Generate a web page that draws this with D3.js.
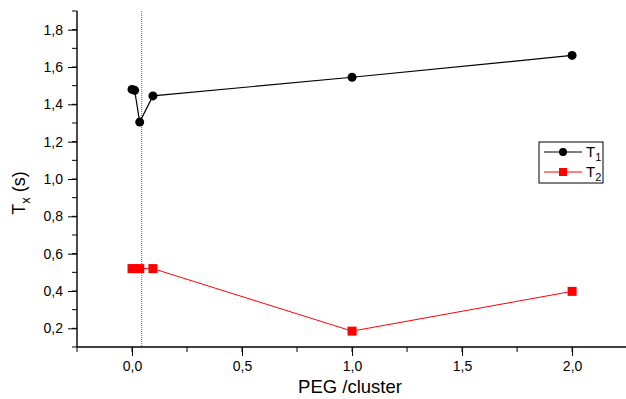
<!DOCTYPE html>
<html>
<head>
<meta charset="utf-8">
<script src="https://d3js.org/d3.v7.min.js"></script>
<style>
  body { margin: 0; background: #fff; }
  text { font-family: "Liberation Sans", Arial, sans-serif; fill: #000; }
</style>
</head>
<body>
<svg width="626" height="399"></svg>
<script>
// data
var pegX = [0, 0.012, 0.035, 0.095, 1.0, 2.0];
var t1 = [1.48, 1.475, 1.305, 1.445, 1.545, 1.662];
var t2 = [0.52, 0.52, 0.52, 0.52, 0.185, 0.398];
var xTicks = [0, 0.5, 1.0, 1.5, 2.0];
var yTicks = [0.2, 0.4, 0.6, 0.8, 1.0, 1.2, 1.4, 1.6, 1.8];
var markerLine = 0.044;

var svg = d3.select("svg");
var padL = 77, padR = 626, padT = 11, padB = 347;

var x = d3.scaleLinear().domain([-0.25, 2.245]).range([padL, padR]);
var y = d3.scaleLinear().domain([0.1, 1.9]).range([padB, padT]);

var fmt = function(d) { return d3.format(".1f")(d).replace(".", ","); };

// minor ticks
var xMinor = d3.range(-0.25, 2.25, 0.25);
var yMinor = d3.range(0.1, 1.91, 0.1);

svg.append("g").selectAll("line").data(xMinor).enter().append("line")
  .attr("x1", function(d) { return x(d); }).attr("x2", function(d) { return x(d); })
  .attr("y1", padB).attr("y2", padB + 5)
  .attr("stroke", "#000").attr("stroke-width", 1);

svg.append("g").selectAll("line").data(yMinor).enter().append("line")
  .attr("y1", function(d) { return y(d); }).attr("y2", function(d) { return y(d); })
  .attr("x1", padL).attr("x2", padL - 5)
  .attr("stroke", "#000").attr("stroke-width", 1);

var xAxis = svg.append("g").attr("transform", "translate(0," + padB + ")")
  .call(d3.axisBottom(x).tickValues(xTicks).tickFormat(fmt).tickSize(9).tickPadding(5));
var yAxis = svg.append("g").attr("transform", "translate(" + padL + ",0)")
  .call(d3.axisLeft(y).tickValues(yTicks).tickFormat(fmt).tickSize(9).tickPadding(5));

xAxis.select(".domain").attr("stroke-width", 1.4).attr("d", "M" + padL + ",0H" + padR);
yAxis.select(".domain").attr("stroke-width", 1.4).attr("d", "M0," + padB + "V" + padT);
[xAxis, yAxis].forEach(function(a) {
  a.selectAll("text").style("font-size", "14px").style("font-family", "'Liberation Sans', Arial, sans-serif");
});

// dotted marker line
svg.append("line")
  .attr("x1", x(markerLine)).attr("x2", x(markerLine))
  .attr("y1", padT).attr("y2", padB)
  .attr("stroke", "#666").attr("stroke-width", 1).attr("stroke-dasharray", "1,1");

var line1 = d3.line().x(function(d, i) { return x(pegX[i]); }).y(function(d) { return y(d); });

svg.append("path").datum(t1).attr("d", line1)
  .attr("fill", "none").attr("stroke", "#000").attr("stroke-width", 1.2);
svg.append("path").datum(t2).attr("d", line1)
  .attr("fill", "none").attr("stroke", "#f00").attr("stroke-width", 1);

svg.append("g").selectAll("circle").data(t1).enter().append("circle")
  .attr("cx", function(d, i) { return x(pegX[i]); })
  .attr("cy", function(d) { return y(d); })
  .attr("r", 4.5).attr("fill", "#000");

svg.append("g").selectAll("rect").data(t2).enter().append("rect")
  .attr("x", function(d, i) { return x(pegX[i]) - 4.5; })
  .attr("y", function(d) { return y(d) - 4.5; })
  .attr("width", 9).attr("height", 9).attr("fill", "#f00");

// axis titles
svg.append("text").attr("x", 350).attr("y", 393).attr("text-anchor", "middle")
  .style("font-size", "18.5px").text("PEG /cluster");

var yt = svg.append("text").attr("transform", "translate(25,193) rotate(-90)")
  .attr("text-anchor", "middle").style("font-size", "18px");
yt.append("tspan").text("T");
yt.append("tspan").attr("dy", 5).style("font-size", "13px").text("x");
yt.append("tspan").attr("dy", -5).text(" (s)");

// legend
var lg = svg.append("g");
lg.append("rect").attr("x", 539).attr("y", 142).attr("width", 64).attr("height", 41)
  .attr("fill", "#fff").attr("stroke", "#000").attr("stroke-width", 1);
var names = ["T", "T"], subs = ["1", "2"], cols = ["#000", "#f00"];
names.forEach(function(n, i) {
  var ly = 152 + i * 20;
  lg.append("line").attr("x1", 544).attr("x2", 582).attr("y1", ly).attr("y2", ly)
    .attr("stroke", cols[i]).attr("stroke-width", 1);
  if (i === 0) lg.append("circle").attr("cx", 563).attr("cy", ly).attr("r", 4).attr("fill", cols[i]);
  else lg.append("rect").attr("x", 559).attr("y", ly - 4).attr("width", 8).attr("height", 8).attr("fill", cols[i]);
  var t = lg.append("text").attr("x", 586).attr("y", ly + 5).style("font-size", "15px");
  t.append("tspan").text(n);
  t.append("tspan").attr("dy", 4).style("font-size", "11px").text(subs[i]);
});
</script>
</body>
</html>
